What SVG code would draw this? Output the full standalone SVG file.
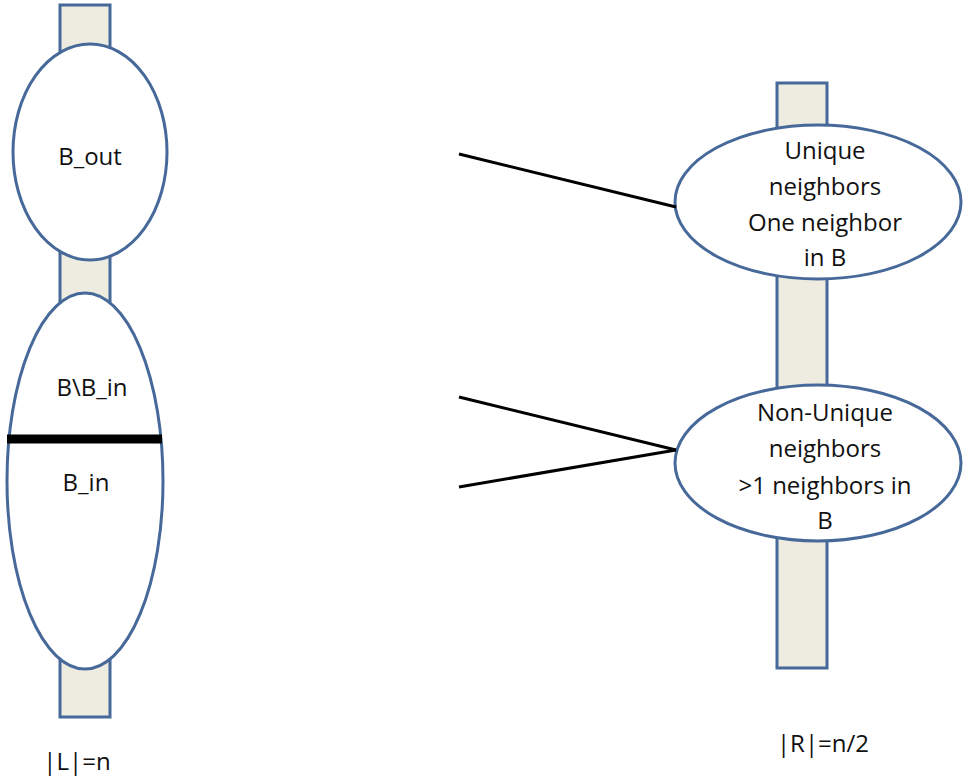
<svg xmlns="http://www.w3.org/2000/svg" width="968" height="776" viewBox="0 0 968 776">
<style>
.bar{fill:#EEECE1;stroke:#47699A;stroke-width:3}
.ell{fill:#FFFFFF;stroke:#47699A;stroke-width:3}
.t{font-family:"Open Sans","Liberation Sans",sans-serif;font-size:24px;fill:#111;text-anchor:middle}
.edge{stroke:#000;stroke-width:3;fill:none}
</style>
<rect width="968" height="776" fill="#fff"/>
<g id="L-bar"><rect class="bar" x="60" y="5" width="50" height="712"/></g>
<g id="R-bar"><rect class="bar" x="777" y="83" width="50" height="585"/></g>
<g id="B_out"><ellipse class="ell" cx="90" cy="152" rx="77" ry="108"/><text class="t" x="90" y="165">B_out</text></g>
<g id="B"><ellipse class="ell" cx="85" cy="481" rx="78" ry="188"/>
<line x1="7" y1="439" x2="162" y2="439" stroke="#000" stroke-width="9"/>
<text class="t" x="92" y="396">B\B_in</text>
<text class="t" x="86" y="491">B_in</text></g>
<g id="unique"><ellipse class="ell" cx="818" cy="202" rx="143" ry="77"/>
<text class="t" x="825" y="159">Unique</text>
<text class="t" x="825" y="195">neighbors</text>
<text class="t" x="825" y="231">One neighbor</text>
<text class="t" x="825" y="266">in B</text></g>
<g id="nonunique"><ellipse class="ell" cx="818" cy="463" rx="143" ry="78"/>
<text class="t" x="825" y="421">Non-Unique</text>
<text class="t" x="825" y="457">neighbors</text>
<text class="t" x="825" y="494">&gt;1 neighbors in</text>
<text class="t" x="825" y="529">B</text></g>
<g id="labels">
<text class="t" x="77" y="770">|L|=n</text>
<text class="t" x="823" y="752">|R|=n/2</text></g>
<g id="connectors">
<line class="edge" x1="459" y1="154" x2="676" y2="207"/>
<line class="edge" x1="459" y1="397" x2="676" y2="450"/>
<line class="edge" x1="459" y1="487" x2="676" y2="450"/>
</g>
</svg>
